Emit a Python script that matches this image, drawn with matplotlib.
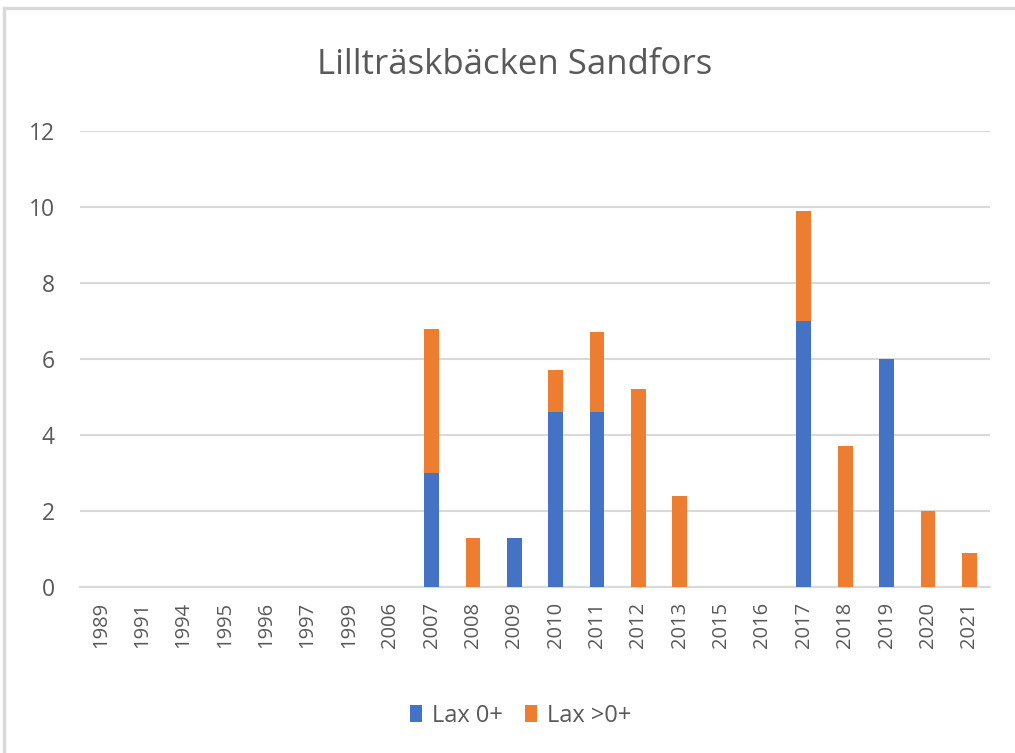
import matplotlib
matplotlib.use("Agg")
import matplotlib.pyplot as plt
import numpy as np
from matplotlib.patches import Rectangle

years = ["1989", "1991", "1994", "1995", "1996", "1997", "1999", "2006", "2007", "2008",
         "2009", "2010", "2011", "2012", "2013", "2015", "2016", "2017", "2018", "2019",
         "2020", "2021"]
lax_0 = [0, 0, 0, 0, 0, 0, 0, 0, 3.0, 0, 1.3, 4.6, 4.6, 0, 0, 0, 0, 7.0, 0, 6.0, 0, 0]
lax_gt0 = [0, 0, 0, 0, 0, 0, 0, 0, 3.8, 1.3, 0, 1.1, 2.1, 5.2, 2.4, 0, 0, 2.9, 3.7, 0, 2.0, 0.9]

plt.rcParams['font.family'] = ['Open Sans', 'DejaVu Sans']
txt = '#595959'

fig = plt.figure(figsize=(10.15, 7.53), dpi=100)
ax = fig.add_axes([80/1015, 166/753, 910/1015, 456/753])

x = np.arange(len(years))
w = 0.36
ax.bar(x, lax_0, w, color='#4472C4', label='Lax 0+', zorder=3)
ax.bar(x, lax_gt0, w, bottom=lax_0, color='#ED7D31', label='Lax >0+', zorder=3)

ax.set_xlim(-0.5, len(years) - 0.5)
ax.set_ylim(0, 12)
ax.set_yticks(range(0, 13, 2))
ax.yaxis.grid(True, color='#d9d9d9', linewidth=1.5, zorder=0)
ax.set_xticks(x)
ax.set_xticklabels(years, rotation=90, fontsize=14.5, color=txt)
ax.tick_params(axis='y', labelsize=16.5, colors=txt, length=0, pad=18)
ax.tick_params(axis='x', length=0, pad=10.5)
for s in ['top', 'right', 'left']:
    ax.spines[s].set_visible(False)
ax.spines['bottom'].set_color('#d9d9d9')
ax.spines['bottom'].set_linewidth(1.5)

fig.text(515/1015, 1 - 65/753, 'Lillträskbäcken Sandfors', ha='center', va='center',
         fontsize=25, color=txt)

leg = fig.legend(loc='center', bbox_to_anchor=(521/1015, 1 - 716/753), ncol=2, frameon=False,
                 fontsize=17, handlelength=0.51, handleheight=0.72, columnspacing=0.93,
                 handletextpad=0.42)
for t in leg.get_texts():
    t.set_color(txt)

fig.patches.append(Rectangle((4/1015, -0.01), 1.02, 1 - 8/753 + 0.01, transform=fig.transFigure,
                             fill=False, edgecolor='#d9d9d9', linewidth=2.5))

fig.savefig('out.png', dpi=100)
